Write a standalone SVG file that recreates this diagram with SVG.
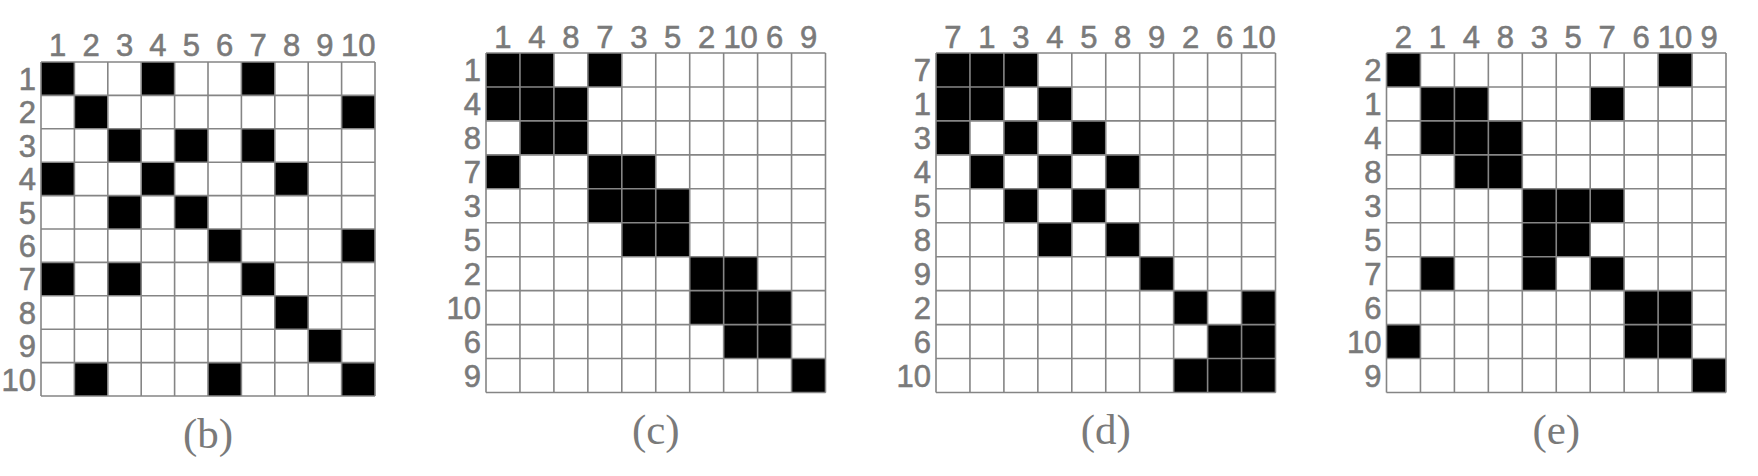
<svg xmlns="http://www.w3.org/2000/svg" xmlns:xlink="http://www.w3.org/1999/xlink" width="1758" height="476" viewBox="0 0 1758 476">
<style>
.bg{fill:#ffffff}
.cell{fill:#000000}
.grid{fill:none;stroke:#858585;stroke-width:1.6}
.lab{font-family:"Liberation Sans",Arial,sans-serif;font-size:31px;fill:#7a7a7a;stroke:#7a7a7a;stroke-width:0.6}
.col{text-anchor:middle}
.row{text-anchor:end}
.cap{font-family:"Liberation Serif","Times New Roman",serif;font-size:43px;fill:#7a7a7a;text-anchor:middle}
</style>
<defs>
<rect id="cb" class="cell" width="33.4" height="33.4"/>
<rect id="cc" class="cell" width="33.95" height="33.95"/>
<path id="gb" class="grid" d="M0 0H334M0 33.4H334M0 66.8H334M0 100.2H334M0 133.6H334M0 167H334M0 200.4H334M0 233.8H334M0 267.2H334M0 300.6H334M0 334H334M0 0V334M33.4 0V334M66.8 0V334M100.2 0V334M133.6 0V334M167 0V334M200.4 0V334M233.8 0V334M267.2 0V334M300.6 0V334M334 0V334"/>
<path id="gc" class="grid" d="M0 0H339.5M0 33.95H339.5M0 67.9H339.5M0 101.85H339.5M0 135.8H339.5M0 169.75H339.5M0 203.7H339.5M0 237.65H339.5M0 271.6H339.5M0 305.55H339.5M0 339.5H339.5M0 0V339.5M33.95 0V339.5M67.9 0V339.5M101.85 0V339.5M135.8 0V339.5M169.75 0V339.5M203.7 0V339.5M237.65 0V339.5M271.6 0V339.5M305.55 0V339.5M339.5 0V339.5"/>
</defs>
<rect class="bg" x="0" y="0" width="1758" height="476"/>

<g id="matrix-b" transform="translate(41,62)">
<rect class="bg" width="334" height="334"/>
<use xlink:href="#cb" x="0" y="0"/><use xlink:href="#cb" x="100.2" y="0"/><use xlink:href="#cb" x="200.4" y="0"/>
<use xlink:href="#cb" x="33.4" y="33.4"/><use xlink:href="#cb" x="300.6" y="33.4"/>
<use xlink:href="#cb" x="66.8" y="66.8"/><use xlink:href="#cb" x="133.6" y="66.8"/><use xlink:href="#cb" x="200.4" y="66.8"/>
<use xlink:href="#cb" x="0" y="100.2"/><use xlink:href="#cb" x="100.2" y="100.2"/><use xlink:href="#cb" x="233.8" y="100.2"/>
<use xlink:href="#cb" x="66.8" y="133.6"/><use xlink:href="#cb" x="133.6" y="133.6"/>
<use xlink:href="#cb" x="167" y="167"/><use xlink:href="#cb" x="300.6" y="167"/>
<use xlink:href="#cb" x="0" y="200.4"/><use xlink:href="#cb" x="66.8" y="200.4"/><use xlink:href="#cb" x="200.4" y="200.4"/>
<use xlink:href="#cb" x="233.8" y="233.8"/>
<use xlink:href="#cb" x="267.2" y="267.2"/>
<use xlink:href="#cb" x="33.4" y="300.6"/><use xlink:href="#cb" x="167" y="300.6"/><use xlink:href="#cb" x="300.6" y="300.6"/>
<use xlink:href="#gb"/>
<g class="lab col">
<text x="16.7" y="-6">1</text><text x="50.1" y="-6">2</text><text x="83.5" y="-6">3</text><text x="116.9" y="-6">4</text><text x="150.3" y="-6">5</text><text x="183.7" y="-6">6</text><text x="217.1" y="-6">7</text><text x="250.5" y="-6">8</text><text x="283.9" y="-6">9</text><text x="317.3" y="-6">10</text>
</g>
<g class="lab row">
<text x="-5" y="28">1</text><text x="-5" y="61.4">2</text><text x="-5" y="94.8">3</text><text x="-5" y="128.2">4</text><text x="-5" y="161.6">5</text><text x="-5" y="195">6</text><text x="-5" y="228.4">7</text><text x="-5" y="261.8">8</text><text x="-5" y="295.2">9</text><text x="-5" y="328.6">10</text>
</g>
<text class="cap" x="167" y="386">(b)</text>
</g>

<g id="matrix-c" transform="translate(486,53)">
<rect class="bg" width="339.5" height="339.5"/>
<use xlink:href="#cc" x="0" y="0"/><use xlink:href="#cc" x="33.95" y="0"/><use xlink:href="#cc" x="101.85" y="0"/>
<use xlink:href="#cc" x="0" y="33.95"/><use xlink:href="#cc" x="33.95" y="33.95"/><use xlink:href="#cc" x="67.9" y="33.95"/>
<use xlink:href="#cc" x="33.95" y="67.9"/><use xlink:href="#cc" x="67.9" y="67.9"/>
<use xlink:href="#cc" x="0" y="101.85"/><use xlink:href="#cc" x="101.85" y="101.85"/><use xlink:href="#cc" x="135.8" y="101.85"/>
<use xlink:href="#cc" x="101.85" y="135.8"/><use xlink:href="#cc" x="135.8" y="135.8"/><use xlink:href="#cc" x="169.75" y="135.8"/>
<use xlink:href="#cc" x="135.8" y="169.75"/><use xlink:href="#cc" x="169.75" y="169.75"/>
<use xlink:href="#cc" x="203.7" y="203.7"/><use xlink:href="#cc" x="237.65" y="203.7"/>
<use xlink:href="#cc" x="203.7" y="237.65"/><use xlink:href="#cc" x="237.65" y="237.65"/><use xlink:href="#cc" x="271.6" y="237.65"/>
<use xlink:href="#cc" x="237.65" y="271.6"/><use xlink:href="#cc" x="271.6" y="271.6"/>
<use xlink:href="#cc" x="305.55" y="305.55"/>
<use xlink:href="#gc"/>
<g class="lab col">
<text x="16.975" y="-5">1</text><text x="50.925" y="-5">4</text><text x="84.875" y="-5">8</text><text x="118.825" y="-5">7</text><text x="152.775" y="-5">3</text><text x="186.725" y="-5">5</text><text x="220.675" y="-5">2</text><text x="254.625" y="-5">10</text><text x="288.575" y="-5">6</text><text x="322.525" y="-5">9</text>
</g>
<g class="lab row">
<text x="-5" y="28.3">1</text><text x="-5" y="62.2">4</text><text x="-5" y="96.2">8</text><text x="-5" y="130.1">7</text><text x="-5" y="164.1">3</text><text x="-5" y="198">5</text><text x="-5" y="232">2</text><text x="-5" y="265.9">10</text><text x="-5" y="299.9">6</text><text x="-5" y="333.8">9</text>
</g>
<text class="cap" x="169.75" y="391">(c)</text>
</g>

<g id="matrix-d" transform="translate(936,53)">
<rect class="bg" width="339.5" height="339.5"/>
<use xlink:href="#cc" x="0" y="0"/><use xlink:href="#cc" x="33.95" y="0"/><use xlink:href="#cc" x="67.9" y="0"/>
<use xlink:href="#cc" x="0" y="33.95"/><use xlink:href="#cc" x="33.95" y="33.95"/><use xlink:href="#cc" x="101.85" y="33.95"/>
<use xlink:href="#cc" x="0" y="67.9"/><use xlink:href="#cc" x="67.9" y="67.9"/><use xlink:href="#cc" x="135.8" y="67.9"/>
<use xlink:href="#cc" x="33.95" y="101.85"/><use xlink:href="#cc" x="101.85" y="101.85"/><use xlink:href="#cc" x="169.75" y="101.85"/>
<use xlink:href="#cc" x="67.9" y="135.8"/><use xlink:href="#cc" x="135.8" y="135.8"/>
<use xlink:href="#cc" x="101.85" y="169.75"/><use xlink:href="#cc" x="169.75" y="169.75"/>
<use xlink:href="#cc" x="203.7" y="203.7"/>
<use xlink:href="#cc" x="237.65" y="237.65"/><use xlink:href="#cc" x="305.55" y="237.65"/>
<use xlink:href="#cc" x="271.6" y="271.6"/><use xlink:href="#cc" x="305.55" y="271.6"/>
<use xlink:href="#cc" x="237.65" y="305.55"/><use xlink:href="#cc" x="271.6" y="305.55"/><use xlink:href="#cc" x="305.55" y="305.55"/>
<use xlink:href="#gc"/>
<g class="lab col">
<text x="16.975" y="-5">7</text><text x="50.925" y="-5">1</text><text x="84.875" y="-5">3</text><text x="118.825" y="-5">4</text><text x="152.775" y="-5">5</text><text x="186.725" y="-5">8</text><text x="220.675" y="-5">9</text><text x="254.625" y="-5">2</text><text x="288.575" y="-5">6</text><text x="322.525" y="-5">10</text>
</g>
<g class="lab row">
<text x="-5" y="28.3">7</text><text x="-5" y="62.2">1</text><text x="-5" y="96.2">3</text><text x="-5" y="130.1">4</text><text x="-5" y="164.1">5</text><text x="-5" y="198">8</text><text x="-5" y="232">9</text><text x="-5" y="265.9">2</text><text x="-5" y="299.9">6</text><text x="-5" y="333.8">10</text>
</g>
<text class="cap" x="169.75" y="391">(d)</text>
</g>

<g id="matrix-e" transform="translate(1386.5,53)">
<rect class="bg" width="339.5" height="339.5"/>
<use xlink:href="#cc" x="0" y="0"/><use xlink:href="#cc" x="271.6" y="0"/>
<use xlink:href="#cc" x="33.95" y="33.95"/><use xlink:href="#cc" x="67.9" y="33.95"/><use xlink:href="#cc" x="203.7" y="33.95"/>
<use xlink:href="#cc" x="33.95" y="67.9"/><use xlink:href="#cc" x="67.9" y="67.9"/><use xlink:href="#cc" x="101.85" y="67.9"/>
<use xlink:href="#cc" x="67.9" y="101.85"/><use xlink:href="#cc" x="101.85" y="101.85"/>
<use xlink:href="#cc" x="135.8" y="135.8"/><use xlink:href="#cc" x="169.75" y="135.8"/><use xlink:href="#cc" x="203.7" y="135.8"/>
<use xlink:href="#cc" x="135.8" y="169.75"/><use xlink:href="#cc" x="169.75" y="169.75"/>
<use xlink:href="#cc" x="33.95" y="203.7"/><use xlink:href="#cc" x="135.8" y="203.7"/><use xlink:href="#cc" x="203.7" y="203.7"/>
<use xlink:href="#cc" x="237.65" y="237.65"/><use xlink:href="#cc" x="271.6" y="237.65"/>
<use xlink:href="#cc" x="0" y="271.6"/><use xlink:href="#cc" x="237.65" y="271.6"/><use xlink:href="#cc" x="271.6" y="271.6"/>
<use xlink:href="#cc" x="305.55" y="305.55"/>
<use xlink:href="#gc"/>
<g class="lab col">
<text x="16.975" y="-5">2</text><text x="50.925" y="-5">1</text><text x="84.875" y="-5">4</text><text x="118.825" y="-5">8</text><text x="152.775" y="-5">3</text><text x="186.725" y="-5">5</text><text x="220.675" y="-5">7</text><text x="254.625" y="-5">6</text><text x="288.575" y="-5">10</text><text x="322.525" y="-5">9</text>
</g>
<g class="lab row">
<text x="-5" y="28.3">2</text><text x="-5" y="62.2">1</text><text x="-5" y="96.2">4</text><text x="-5" y="130.1">8</text><text x="-5" y="164.1">3</text><text x="-5" y="198">5</text><text x="-5" y="232">7</text><text x="-5" y="265.9">6</text><text x="-5" y="299.9">10</text><text x="-5" y="333.8">9</text>
</g>
<text class="cap" x="169.75" y="391">(e)</text>
</g>

<g id="connectors"></g>
</svg>
